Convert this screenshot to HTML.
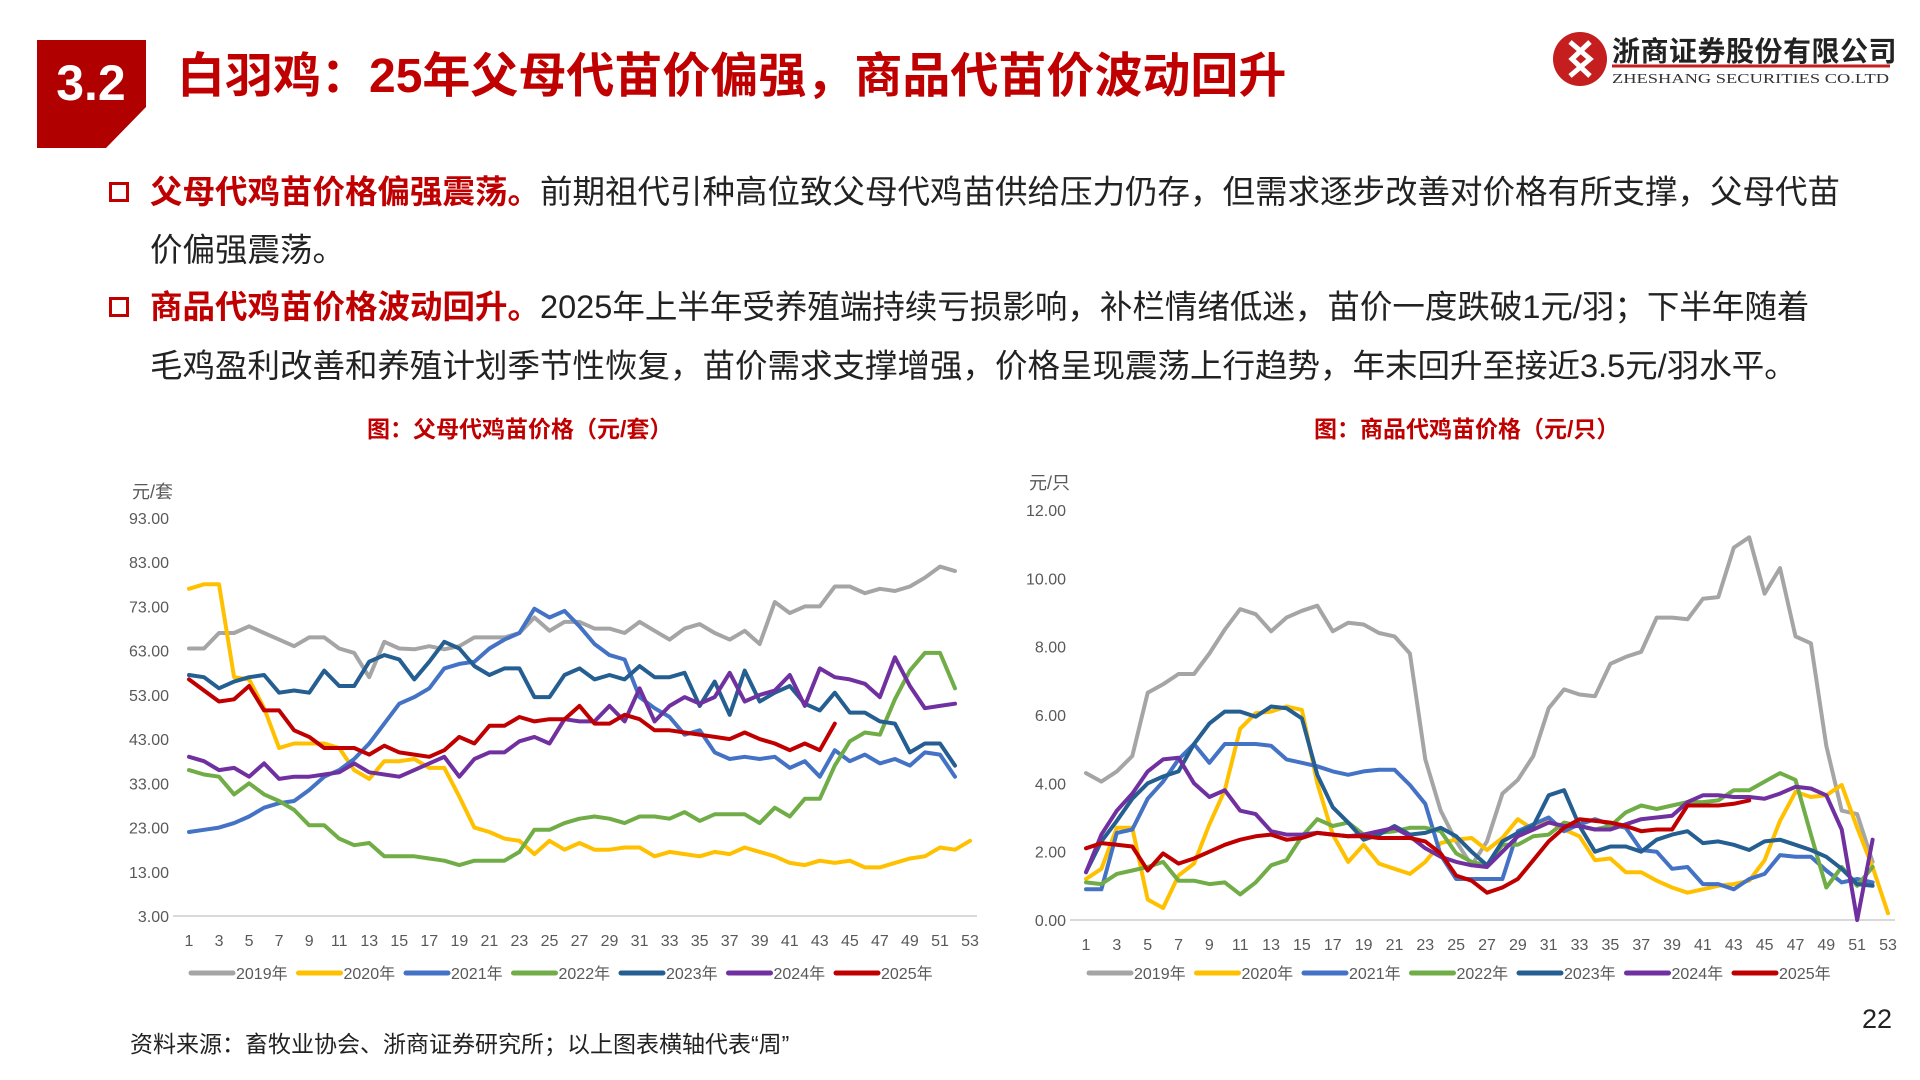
<!DOCTYPE html>
<html><head><meta charset="utf-8">
<style>
html,body{margin:0;padding:0;background:#fff;}
body{width:1920px;height:1080px;position:relative;overflow:hidden;font-family:"Liberation Sans","Noto Sans CJK SC",sans-serif;}
.abs{position:absolute;white-space:nowrap;}
.title{left:177px;top:48px;font-size:48px;font-weight:bold;color:#C00000;line-height:58px;}
.line{left:150px;font-size:32.5px;color:#222;line-height:40px;}
.hl{color:#C00000;font-weight:bold;}
.bullet{left:109px;width:14px;height:14px;border:3px solid #C00000;}
.ctitle{font-size:23px;font-weight:bold;color:#C00000;}
</style></head>
<body>
<svg class="abs" style="left:0;top:0" width="1920" height="1080">
<polygon points="37,40 146,40 146,107 106,148 37,148" fill="#B00000"/>
<text x="91" y="100" font-family="Liberation Sans" font-weight="bold" font-size="50" fill="#fff" text-anchor="middle">3.2</text>
<circle cx="1580" cy="59" r="27" fill="#C41E1E"/>
<path d="M1570,42 L1590,59 L1570,76 M1590,42 L1572,59 L1590,76" stroke="#fff" stroke-width="5" fill="none"/>
<line x1="1612" y1="66" x2="1890" y2="66" stroke="#C41E1E" stroke-width="3"/>
<text x="1612" y="83" font-family="Liberation Serif, serif" font-size="14" fill="#333" textLength="277" lengthAdjust="spacingAndGlyphs">ZHESHANG SECURITIES CO.LTD</text>
</svg>
<div class="abs title">白羽鸡：25年父母代苗价偏强，商品代苗价波动回升</div>
<div class="abs" style="left:1612px;top:30px;font-size:28px;font-weight:bold;color:#222;letter-spacing:0.5px;">浙商证券股份有限公司</div>

<div class="abs bullet" style="top:182px"></div>
<div class="abs line" style="top:172px"><span class="hl">父母代鸡苗价格偏强震荡。</span>前期祖代引种高位致父母代鸡苗供给压力仍存，但需求逐步改善对价格有所支撑，父母代苗</div>
<div class="abs line" style="top:230px">价偏强震荡。</div>
<div class="abs bullet" style="top:297px"></div>
<div class="abs line" style="top:287px"><span class="hl">商品代鸡苗价格波动回升。</span>2025年上半年受养殖端持续亏损影响，补栏情绪低迷，苗价一度跌破1元/羽；下半年随着</div>
<div class="abs line" style="top:346px">毛鸡盈利改善和养殖计划季节性恢复，苗价需求支撑增强，价格呈现震荡上行趋势，年末回升至接近3.5元/羽水平。</div>

<div class="abs ctitle" style="left:367px;top:410px">图：父母代鸡苗价格（元/套）</div>
<div class="abs ctitle" style="left:1314px;top:410px">图：商品代鸡苗价格（元/只）</div>

<div class="abs" style="left:130px;top:1025px;font-size:23px;color:#222">资料来源：畜牧业协会、浙商证券研究所；以上图表横轴代表“周”</div>
<div class="abs" style="left:1862px;top:1004px;font-size:27px;color:#222">22</div>

<svg id="c1" class="abs" style="left:0;top:0" width="1920" height="1080"></svg>

<script>
const years = ["2019年","2020年","2021年","2022年","2023年","2024年","2025年"];
const colors = ["#A5A5A5","#FFC000","#4472C4","#70AD47","#255E91","#7030A0","#C00000"];
const weekTicks = [1,3,5,7,9,11,13,15,17,19,21,23,25,27,29,31,33,35,37,39,41,43,45,47,49,51,53];
const leftTicks = [3,13,23,33,43,53,63,73,83,93];
const rightTicks = [0,2,4,6,8,10,12];

const p2019 = [63.5,63.5,67,67,68.5,67,65.5,64,66,66,63.5,62.5,57,65,63.5,63.3,64,63.3,64,66,66,66,67,70.5,67.5,69.5,69.5,68,68,67,69.5,67.5,65.5,68,69,67,65.5,67.5,64.5,74,71.5,73,73,77.5,77.5,76,77,76.5,77.5,79.5,82,81];
const p2020 = [77,78,78,57,56.5,50,41,42,42,42,41,36,34,38,38,38.5,36.5,36.5,30,23,22,20.5,20,17,20,18,19.5,18,18,18.5,18.5,16.5,17.5,17,16.5,17.5,17,18.5,17.5,16.5,15,14.5,15.5,15,15.5,14,14,15,16,16.5,18.5,18,20];
const p2021 = [22,22.5,23,24,25.5,27.5,28.5,29,31.5,34.5,36,38.5,42,46.5,51,52.5,54.5,59,60,60.5,63.5,65.5,67,72.5,70.5,72,68.5,64.5,62,61,52.5,50,48,44,45,40,38.5,39,38.5,39,36.5,38,34.5,40.5,38,39.5,37.5,38.5,37,40,39.5,34.5];
const p2022 = [36,35,34.5,30.5,33,30.5,29,27,23.5,23.5,20.5,19,19.5,16.5,16.5,16.5,16,15.5,14.5,15.5,15.5,15.5,17.5,22.5,22.5,24,25,25.5,25,24,25.5,25.5,25,26.5,24.5,26,26,26,24,27.5,25.5,29.5,29.5,37,42.5,44.5,44,52,58.5,62.5,62.5,54.5];
const p2023 = [57.5,57,54.5,56,57,57.5,53.5,54,53.5,58.5,55,55,60.5,62,61,56.5,60.5,65,63.5,59.5,57.5,59,59,52.5,52.5,57.5,59,56.5,57.5,56.5,59.5,57,57,58,50.5,56,48.5,58.5,51.5,53.5,55,51,49.5,53.5,49,49,47,46.5,40,42,42,37];
const p2024 = [39,38,36,36.5,34.5,37.5,34,34.5,34.5,35,35.5,37.5,35.5,35,34.5,36,37.5,39,34.5,38.5,40,40,42.5,43.5,42,47.5,47,47,50.5,47,54.5,47,50.5,52.5,51,52.5,58,51.5,53,54,57.5,50.5,59,57,56.5,55.5,52.5,61.5,55,50,50.5,51];
const p2025 = [56.5,54,51.5,52,55,49.5,49.5,45,43.5,41,41,41,39.5,41.5,40,39.5,39,40.5,43.5,42,46,46,48,47,47.5,47.5,50.5,46.5,46.5,48.5,47.5,45,45,44.5,44,43.5,43,44.5,43,42,40.5,42,40.5,46.5];

const c2019 = [4.3,4.05,4.35,4.8,6.65,6.9,7.2,7.2,7.8,8.5,9.1,8.95,8.45,8.85,9.05,9.2,8.45,8.7,8.65,8.4,8.3,7.8,4.7,3.2,2.3,1.6,2.3,3.7,4.1,4.8,6.2,6.75,6.6,6.55,7.5,7.7,7.85,8.85,8.85,8.8,9.4,9.45,10.9,11.2,9.55,10.3,8.3,8.1,5.1,3.2,3.1,1.7];
const c2020 = [1.2,1.5,2.7,2.7,0.6,0.35,1.3,1.65,2.8,3.8,5.6,6.05,6.1,6.25,6.15,4.0,2.5,1.7,2.2,1.65,1.5,1.35,1.7,2.25,2.35,2.4,2.05,2.4,2.95,2.65,2.9,2.65,2.45,1.75,1.8,1.4,1.4,1.15,0.95,0.8,0.9,1.0,1.05,1.15,1.75,2.9,3.75,3.6,3.65,3.95,2.7,1.55,0.2];
const c2021 = [0.9,0.9,2.55,2.65,3.55,4.05,4.7,5.15,4.6,5.15,5.15,5.15,5.1,4.7,4.6,4.5,4.35,4.25,4.35,4.4,4.4,3.95,3.4,1.9,1.2,1.2,1.2,1.2,2.6,2.8,3.0,2.6,2.8,2.95,2.8,2.7,2.05,2.0,1.5,1.55,1.05,1.05,0.9,1.2,1.35,1.9,1.85,1.85,1.45,1.1,1.2,1.1];
const c2022 = [1.1,1.05,1.35,1.45,1.55,1.7,1.15,1.15,1.05,1.1,0.75,1.1,1.6,1.75,2.45,2.95,2.75,2.85,2.5,2.55,2.6,2.7,2.7,2.6,1.95,1.7,1.6,2.2,2.2,2.45,2.5,2.85,2.75,2.65,2.75,3.15,3.35,3.25,3.35,3.45,3.45,3.5,3.8,3.8,4.05,4.3,4.1,2.5,0.95,1.55,1.0,1.55];
const c2023 = [1.4,2.3,2.9,3.55,4.0,4.2,4.35,5.15,5.75,6.1,6.1,5.95,6.25,6.2,5.9,4.25,3.3,2.85,2.35,2.5,2.75,2.5,2.55,2.7,2.45,2.0,1.6,2.3,2.55,2.75,3.65,3.8,2.75,2.0,2.15,2.15,2.0,2.35,2.5,2.6,2.25,2.3,2.2,2.05,2.3,2.35,2.2,2.05,1.85,1.5,1.05,1.0];
const c2024 = [1.4,2.5,3.2,3.7,4.35,4.7,4.75,4.0,3.6,3.8,3.2,3.1,2.6,2.5,2.5,2.55,2.5,2.45,2.5,2.6,2.7,2.45,2.1,1.85,1.7,1.6,1.55,2.0,2.45,2.65,2.85,2.75,2.75,2.65,2.65,2.8,2.95,3.0,3.05,3.45,3.65,3.65,3.6,3.6,3.55,3.7,3.9,3.85,3.65,2.65,0.0,2.35];
const c2025 = [2.1,2.25,2.2,2.15,1.45,1.95,1.65,1.8,2.0,2.2,2.35,2.45,2.5,2.35,2.4,2.55,2.5,2.45,2.45,2.4,2.4,2.4,2.3,1.95,1.3,1.15,0.8,0.95,1.2,1.75,2.3,2.7,2.95,2.9,2.85,2.75,2.6,2.65,2.65,3.35,3.35,3.35,3.4,3.5];

const NS = "http://www.w3.org/2000/svg";
const svg = document.getElementById("c1");
function mk(tag, attrs, parent){ const e=document.createElementNS(NS,tag); for(const k in attrs) e.setAttribute(k,attrs[k]); (parent||svg).appendChild(e); return e; }

function drawChart(cfg){
  const g = mk("g",{});
  
  
  const xs = w => cfg.x1 + (w-1)*(cfg.x53-cfg.x1)/52;
  const ys = v => cfg.yBot - (v-cfg.vMin)*(cfg.yBot-cfg.yTop)/(cfg.vMax-cfg.vMin);
  const base = mk("line",{x1:cfg.axL,x2:cfg.axR,y1:ys(cfg.vMin),y2:ys(cfg.vMin),stroke:"#D9D9D9","stroke-width":2},g);
  
  
  cfg.ticks.forEach(t=>{
    const tx = mk("text",{x:cfg.labR,y:ys(t)+6,"text-anchor":"end","font-size":16,fill:"#595959","font-family":"Liberation Sans, sans-serif"},g);
    tx.textContent = t.toFixed(2);
    
    
  });
  weekTicks.forEach(w=>{
    const tx = mk("text",{x:xs(w),y:cfg.xLabY,"text-anchor":"middle","font-size":16,fill:"#595959","font-family":"Liberation Sans, sans-serif"},g);
    tx.textContent = w;
    
    
  });
  const u = mk("text",{x:cfg.unitX,y:cfg.unitY,"font-size":18,fill:"#595959","font-family":"Liberation Sans, Noto Sans CJK SC, sans-serif"},g);
  u.textContent = cfg.unit;
  
  
  cfg.series.forEach((s,i)=>{
    const pts = s.map((v,k)=>xs(k+1).toFixed(1)+","+ys(v).toFixed(1)).join(" ");
    const pl = mk("polyline",{points:pts,fill:"none",stroke:colors[i],"stroke-width":4,"stroke-linejoin":"round","stroke-linecap":"round"},g);
    
    
  });
  years.forEach((y,i)=>{
    const lx = cfg.legX + i*107.5;
    const ll = mk("line",{x1:lx,x2:lx+42,y1:cfg.legY,y2:cfg.legY,stroke:colors[i],"stroke-width":5,"stroke-linecap":"round"},g);
    
    
    const lt = mk("text",{x:lx+45,y:cfg.legY+6,"font-size":16,fill:"#595959","font-family":"Liberation Sans, Noto Sans CJK SC, sans-serif"},g);
    lt.textContent = y;
    
    
  });
}

drawChart({name:"left-chart",x1:189,x53:970,yTop:518,yBot:916,vMin:3,vMax:93,axL:173,axR:977,labR:169,xLabY:946,
  ticks:leftTicks,unit:"元/套",unitX:132,unitY:498,legX:191,legY:973,series:[p2019,p2020,p2021,p2022,p2023,p2024,p2025]});
drawChart({name:"right-chart",x1:1086,x53:1888,yTop:510,yBot:920,vMin:0,vMax:12,axL:1070,axR:1895,labR:1066,xLabY:950,
  ticks:rightTicks,unit:"元/只",unitX:1029,unitY:489,legX:1089,legY:973,series:[c2019,c2020,c2021,c2022,c2023,c2024,c2025]});
</script>
</body></html>
